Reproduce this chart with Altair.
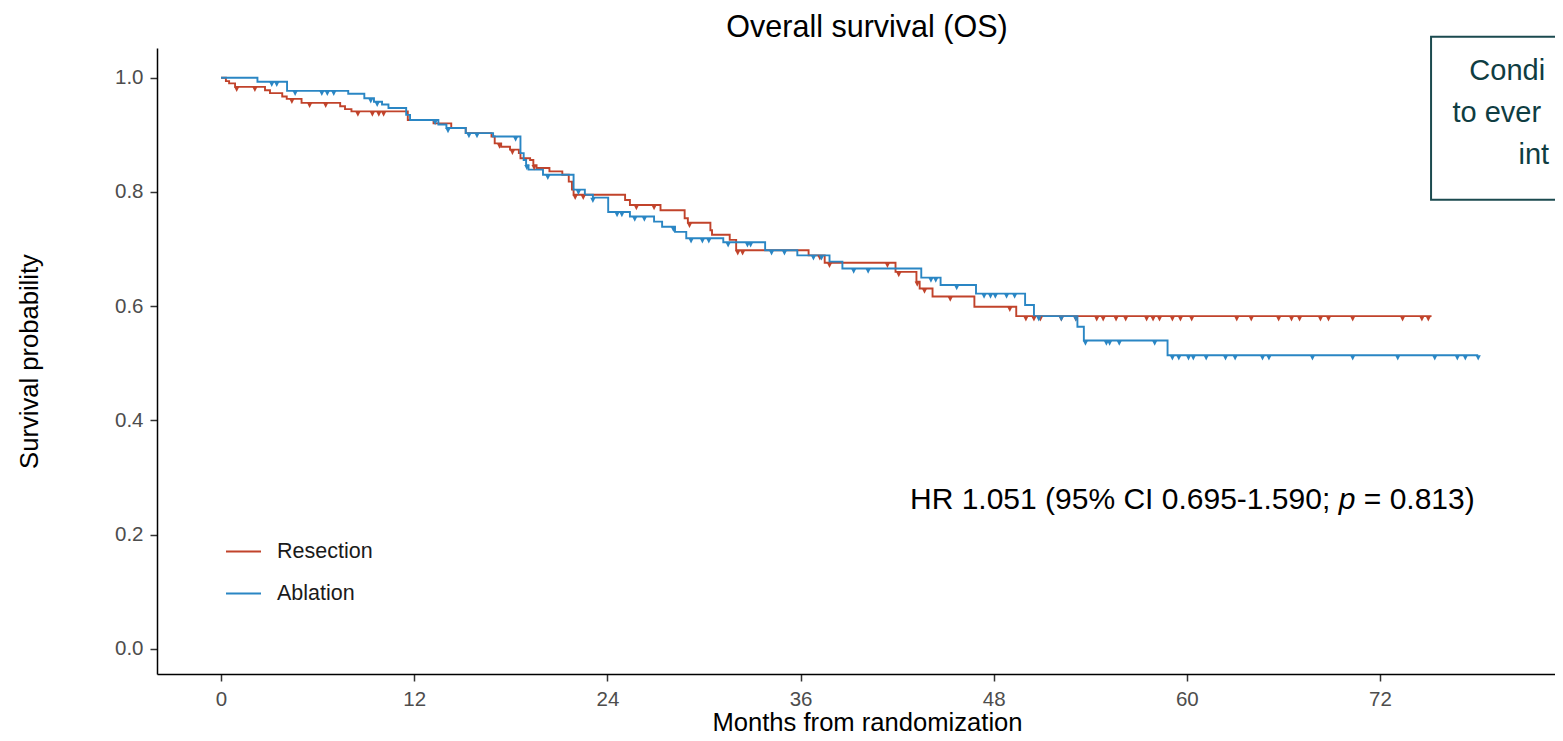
import altair as alt
import pandas as pd

# ---- data ----
arms = ["Resection", "Ablation"]
colors = ["#c1432b", "#2a86c4"]

res_t = [0, 0.3, 0.5, 0.87, 2.73, 3.04, 3.8, 4.08, 5.0, 7.4, 7.7, 8.1, 11.6, 13.2, 14.3, 15.2,
         16.8, 17.0, 17.4, 17.95, 18.5, 18.6, 19.2, 19.4, 19.6, 20.4, 21.2, 21.6, 21.8, 21.9,
         25.1, 25.4, 27.3, 28.8, 29.0, 30.4, 30.5, 31.6, 32.0, 36.5, 37.5, 41.9, 43.2, 43.4,
         44.2, 46.8, 49.4, 75.2]
res_s = [1.0, 0.994, 0.990, 0.984, 0.978, 0.973, 0.967, 0.963, 0.956, 0.950, 0.945, 0.941,
         0.926, 0.920, 0.912, 0.903, 0.897, 0.885, 0.879, 0.874, 0.868, 0.859, 0.856, 0.847,
         0.842, 0.836, 0.830, 0.818, 0.804, 0.795, 0.786, 0.777, 0.768, 0.754, 0.746, 0.733,
         0.725, 0.716, 0.698, 0.689, 0.676, 0.660, 0.643, 0.631, 0.617, 0.599, 0.5825, 0.5825]

abl_t = [0, 2.26, 4.1, 7.9, 8.9, 9.5, 10.0, 10.4, 11.5, 11.74, 13.5, 14.0, 15.2, 16.9, 18.6,
         18.8, 18.95, 19.1, 20.0, 21.9, 22.6, 23.1, 24.05, 25.4, 26.9, 27.4, 28.2, 28.9, 31.2,
         33.8, 35.8, 37.8, 38.6, 43.5, 44.7, 46.9, 49.95, 50.5, 53.2, 53.6, 58.8, 78.1]
abl_s = [1.0, 0.993, 0.977, 0.972, 0.964, 0.958, 0.953, 0.947, 0.935, 0.926, 0.918, 0.912,
         0.903, 0.897, 0.868, 0.856, 0.847, 0.839, 0.830, 0.804, 0.795, 0.790, 0.765, 0.757,
         0.748, 0.739, 0.730, 0.719, 0.712, 0.698, 0.689, 0.678, 0.666, 0.650, 0.637, 0.622,
         0.602, 0.5825, 0.564, 0.540, 0.514, 0.514]

res_cens = [0.97, 2.1, 4.4, 5.5, 6.5, 8.5, 9.4, 9.8, 10.1, 17.3, 18.1, 19.45, 22.0, 22.5, 25.8,
            26.9, 29.1, 32.1, 32.4, 37.2, 37.8, 41.4, 42.1, 43.25, 43.7, 45.3, 49.0, 50.0, 50.5,
            50.9, 52.2, 53.1, 54.4, 54.8, 55.6, 56.2, 57.5, 57.9, 58.3, 59.1, 59.6, 60.3, 63.1,
            64.0, 65.7, 66.5, 67.0, 68.3, 68.8, 70.3, 73.4, 74.6, 75.0]
abl_cens = [3.15, 3.46, 4.6, 6.26, 6.6, 7.0, 9.3, 9.7, 13.3, 14.1, 15.4, 15.9, 18.3, 19.0, 20.3,
            22.2, 23.1, 24.6, 24.9, 25.7, 26.3, 28.1, 29.2, 29.9, 30.3, 31.5, 32.7, 32.9, 34.2,
            35.0, 36.8, 37.3, 39.3, 40.2, 44.1, 44.4, 45.7, 47.4, 47.8, 48.1, 48.8, 49.3, 50.8,
            52.2, 53.1, 53.7, 55.0, 55.2, 55.8, 58.0, 59.1, 59.5, 60.1, 60.4, 61.2, 62.4, 63.0,
            64.7, 65.1, 67.8, 70.3, 73.1, 75.4, 76.8, 77.3, 78.1]

x_ticks = [0, 12, 24, 36, 48, 60, 72]
y_ticks = [0, 0.2, 0.4, 0.6, 0.8, 1.0]

title_text = "Overall survival (OS)"
title_x = 40.13
title_y = 1.0720

hr_parts = ["HR 1.051 (95% CI 0.695-1.590; ", "p", "= 0.813)"]
hr_x = [42.80, 69.43, 70.99]
hr_y = 0.245

box_lines = ["Condi", "to ever", "int"]
box_x = [77.55, 76.50, 80.6]
box_y = [0.9965, 0.9229, 0.8494]

# ---- tables ----
def step_at(ts, ss, c):
    v = ss[0]
    for t, s in zip(ts, ss):
        if t <= c:
            v = s
    return v

lines = pd.concat([
    pd.DataFrame({"t": res_t, "s": res_s, "arm": "Resection"}),
    pd.DataFrame({"t": abl_t, "s": abl_s, "arm": "Ablation"}),
])
cens = pd.concat([
    pd.DataFrame({"t": res_cens, "s": [step_at(res_t, res_s, c) for c in res_cens], "arm": "Resection"}),
    pd.DataFrame({"t": abl_cens, "s": [step_at(abl_t, abl_s, c) for c in abl_cens], "arm": "Ablation"}),
])

FONT = "Liberation Sans"
xscale = alt.Scale(domain=[-3.98, 82.87], nice=False, zero=False)
yscale = alt.Scale(domain=[-0.044, 1.052], nice=False, zero=False)
legend = alt.Legend(orient="none", legendX=68, legendY=485, title=None, symbolType="stroke",
                    symbolSize=1225, symbolStrokeWidth=1.8, labelFontSize=21.5, labelFont=FONT,
                    labelColor="#1a1a1a", labelOffset=15, rowPadding=13, padding=0)
color = alt.Color("arm:N", scale=alt.Scale(domain=arms, range=colors), legend=legend)

xaxis = alt.Axis(values=x_ticks, title="Months from randomization", grid=False,
                 tickSize=7, labelPadding=8, titleX=710, titleY=56, titleAlign="center",
                 titleBaseline="alphabetic", titleFontSize=25.6, titleFont=FONT,
                 titleFontWeight="normal", titleColor="#000", labelFontSize=20.5,
                 labelFont=FONT, labelColor="#4d4d4d", domainColor="#000", domainWidth=1.5,
                 tickColor="#333", tickWidth=1.5)
yaxis = alt.Axis(values=y_ticks, format=".1f", title="Survival probability", grid=False,
                 tickSize=7, labelPadding=7, titleX=-128, titleBaseline="middle",
                 titleFontSize=25.6, titleFont=FONT, titleFontWeight="normal",
                 titleColor="#000", labelFontSize=20.5, labelFont=FONT, labelColor="#4d4d4d",
                 domainColor="#000", domainWidth=1.5, tickColor="#333", tickWidth=1.5)

base_x = alt.X("t:Q", scale=xscale, axis=xaxis)
base_y = alt.Y("s:Q", scale=yscale, axis=yaxis)

line_layer = alt.Chart(lines).mark_line(interpolate="step-after", strokeWidth=1.9).encode(
    x=base_x, y=base_y, color=color, detail="arm:N")

cens_layer = alt.Chart(cens).mark_point(
    shape="M-0.5,0L0.5,0L0,1Z", filled=True, size=110, opacity=1).encode(
    x=alt.X("t:Q", scale=xscale), y=alt.Y("s:Q", scale=yscale), color=color)

title_df = pd.DataFrame({"x": [title_x], "y": [title_y], "txt": [title_text]})
title_layer = alt.Chart(title_df).mark_text(
    align="center", baseline="alphabetic", font=FONT, fontSize=30.5, color="#000").encode(
    x=alt.X("x:Q", scale=xscale), y=alt.Y("y:Q", scale=yscale), text="txt:N")

hr_df = pd.DataFrame({"x": hr_x, "y": [hr_y] * 3, "txt": hr_parts,
                      "style": ["normal", "italic", "normal"]})
hr_normal = alt.Chart(hr_df[hr_df["style"] == "normal"]).mark_text(
    align="left", baseline="alphabetic", font=FONT, fontSize=30, color="#000").encode(
    x=alt.X("x:Q", scale=xscale), y=alt.Y("y:Q", scale=yscale), text="txt:N")
hr_italic = alt.Chart(hr_df[hr_df["style"] == "italic"]).mark_text(
    align="left", baseline="alphabetic", font=FONT, fontSize=30, fontStyle="italic",
    color="#000").encode(
    x=alt.X("x:Q", scale=xscale), y=alt.Y("y:Q", scale=yscale), text="txt:N")

box_df = pd.DataFrame({"x": [75.17], "x2": [92.0], "y": [1.0718], "y2": [0.7863]})
box = alt.Chart(box_df).mark_rect(fill="white", fillOpacity=0, stroke="#1b4a4f",
                                  strokeWidth=2).encode(
    x=alt.X("x:Q", scale=xscale), x2="x2:Q", y=alt.Y("y:Q", scale=yscale), y2="y2:Q")

box_txt_df = pd.DataFrame({"x": box_x, "y": box_y, "txt": box_lines})
box_txt = alt.Chart(box_txt_df).mark_text(
    align="left", baseline="alphabetic", font=FONT, fontSize=29, color="#0f3d42").encode(
    x=alt.X("x:Q", scale=xscale), y=alt.Y("y:Q", scale=yscale), text="txt:N")

chart = alt.layer(line_layer, cens_layer, title_layer, hr_normal, hr_italic, box,
                  box_txt).properties(
    width=1398, height=626,
    background="white",
    autosize=alt.AutoSizeParams(type="none"),
    padding={"left": 149, "top": 40, "right": 0, "bottom": 64},
).configure_view(strokeWidth=0, stroke="transparent")

chart.save("out.html", embed_options={"renderer": "svg", "actions": False})
